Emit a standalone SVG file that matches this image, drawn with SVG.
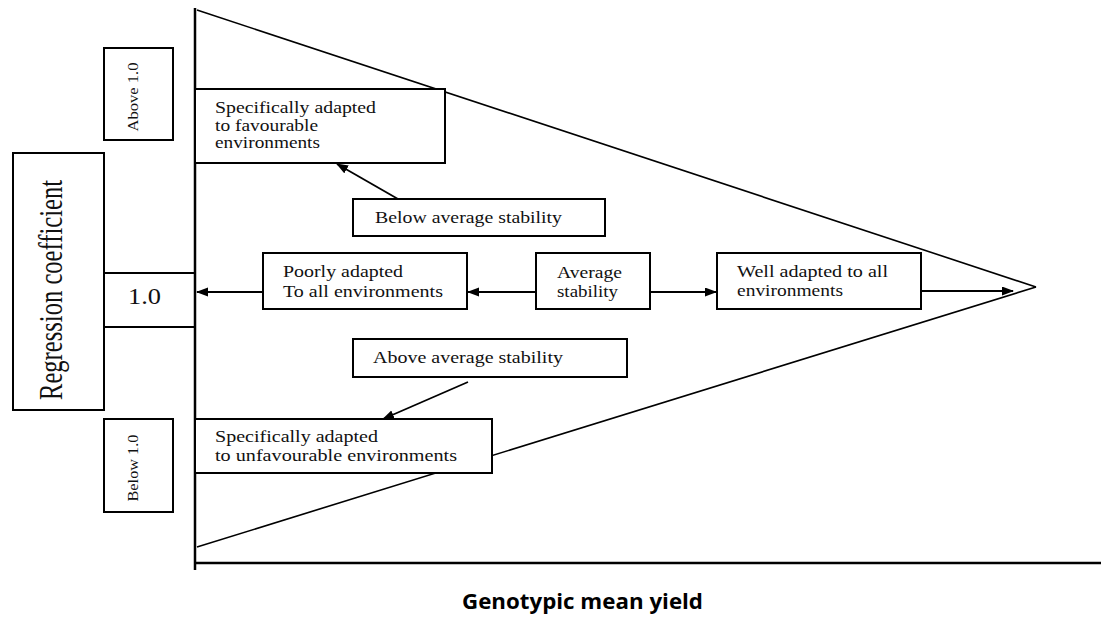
<svg xmlns="http://www.w3.org/2000/svg" width="1101" height="617" viewBox="0 0 1101 617">
<style>
.box{fill:#fff;stroke:#000;stroke-width:2}
.ln{fill:none;stroke:#000;stroke-width:1.6}
.ax{fill:none;stroke:#000;stroke-width:2.5}
.arr{fill:none;stroke:#000;stroke-width:1.8;marker-end:url(#ah)}
.t{font-family:"Liberation Serif","Times New Roman",serif;font-size:17px;fill:#111}
.lab{font-family:"Open Sans","DejaVu Sans",sans-serif;font-weight:bold;font-size:22px;fill:#000}
</style>
<defs>
<marker id="ah" markerWidth="12" markerHeight="10" refX="11" refY="4.5" orient="auto" markerUnits="userSpaceOnUse">
<path d="M0,0 L12,4.5 L0,9 z" fill="#000"/>
</marker>
</defs>
<rect width="1101" height="617" fill="#fff"/>

<g id="triangle">
<line class="ln" x1="197" y1="10" x2="1036" y2="287"/>
<line class="ln" x1="197" y1="547" x2="1036" y2="287"/>
</g>

<g id="axes">
<line class="ax" x1="195" y1="8" x2="195" y2="570"/>
<line class="ax" x1="195" y1="563" x2="1101" y2="563"/>
</g>

<g id="connectors">
<line class="arr" x1="398" y1="199" x2="337" y2="164"/>
<line class="arr" x1="263" y1="292" x2="197" y2="292"/>
<line class="arr" x1="536" y1="292" x2="468" y2="292"/>
<line class="arr" x1="650" y1="292" x2="716" y2="292"/>
<line class="arr" x1="921" y1="291" x2="1013" y2="291"/>
<line class="arr" x1="468" y1="382" x2="383" y2="419"/>
</g>

<g id="regression">
<rect class="box" x="13" y="153" width="91" height="257"/>
<text class="t" transform="translate(62,290) scale(1.4,1) rotate(-90)" text-anchor="middle" style="font-size:24px" textLength="220" lengthAdjust="spacingAndGlyphs">Regression coefficient</text>
</g>

<g id="above10">
<rect class="box" x="104" y="48" width="69" height="92"/>
<text class="t" transform="translate(138,97) rotate(-90)" text-anchor="middle" style="font-size:15px" textLength="69" lengthAdjust="spacingAndGlyphs">Above 1.0</text>
</g>

<g id="below10">
<rect class="box" x="104" y="419" width="69" height="93"/>
<text class="t" transform="translate(138,468) rotate(-90)" text-anchor="middle" style="font-size:15px" textLength="67" lengthAdjust="spacingAndGlyphs">Below 1.0</text>
</g>

<g id="one">
<line class="ax" x1="104" y1="273" x2="195" y2="273" style="stroke-width:2"/>
<line class="ax" x1="104" y1="327" x2="195" y2="327" style="stroke-width:2"/>
<text class="t" x="128" y="304" style="font-size:23px" textLength="33" lengthAdjust="spacingAndGlyphs">1.0</text>
</g>

<g id="favourable">
<rect class="box" x="195" y="89" width="250" height="74"/>
<text class="t" x="215" y="113" textLength="161" lengthAdjust="spacingAndGlyphs">Specifically adapted</text>
<text class="t" x="215" y="131" textLength="103" lengthAdjust="spacingAndGlyphs">to favourable</text>
<text class="t" x="215" y="148" textLength="105" lengthAdjust="spacingAndGlyphs">environments</text>
</g>

<g id="belowavg">
<rect class="box" x="353" y="199" width="252" height="37"/>
<text class="t" x="375" y="223" textLength="187" lengthAdjust="spacingAndGlyphs">Below average stability</text>
</g>

<g id="poorly">
<rect class="box" x="263" y="253" width="204" height="56"/>
<text class="t" x="283" y="277" textLength="120" lengthAdjust="spacingAndGlyphs">Poorly adapted</text>
<text class="t" x="283" y="297" textLength="160" lengthAdjust="spacingAndGlyphs">To all environments</text>
</g>

<g id="average">
<rect class="box" x="536" y="253" width="114" height="56"/>
<text class="t" x="557" y="278" textLength="65" lengthAdjust="spacingAndGlyphs">Average</text>
<text class="t" x="557" y="297" textLength="61" lengthAdjust="spacingAndGlyphs">stability</text>
</g>

<g id="well">
<rect class="box" x="717" y="253" width="204" height="56"/>
<text class="t" x="737" y="277" textLength="151" lengthAdjust="spacingAndGlyphs">Well adapted to all</text>
<text class="t" x="737" y="296" textLength="106" lengthAdjust="spacingAndGlyphs">environments</text>
</g>

<g id="aboveavg">
<rect class="box" x="353" y="339" width="274" height="38"/>
<text class="t" x="373" y="363" textLength="190" lengthAdjust="spacingAndGlyphs">Above average stability</text>
</g>

<g id="unfavourable">
<rect class="box" x="195" y="419" width="297" height="54"/>
<text class="t" x="215" y="442" textLength="163" lengthAdjust="spacingAndGlyphs">Specifically adapted</text>
<text class="t" x="215" y="461" textLength="242" lengthAdjust="spacingAndGlyphs">to unfavourable environments</text>
</g>

<g id="xlabel">
<text class="lab" x="462" y="609" textLength="241" lengthAdjust="spacingAndGlyphs">Genotypic mean yield</text>
</g>
</svg>
